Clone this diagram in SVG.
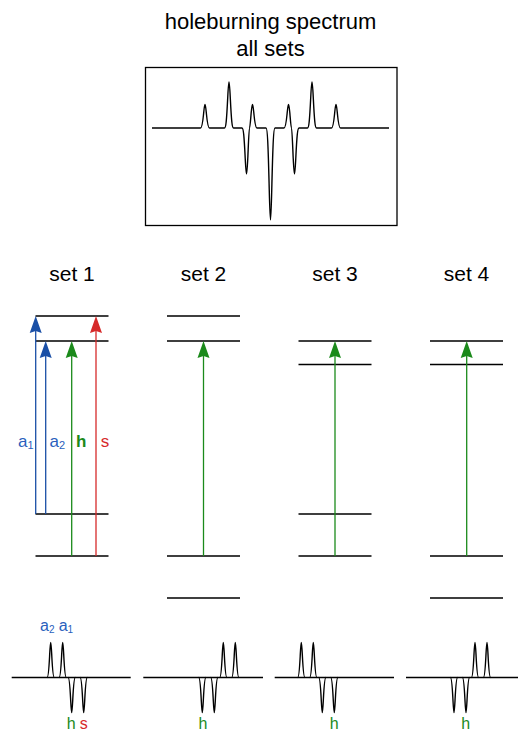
<svg xmlns="http://www.w3.org/2000/svg" xmlns:xlink="http://www.w3.org/1999/xlink" width="518" height="731" viewBox="0 0 518 731">
  <style>
    text { font-family: "Liberation Sans", Arial, Helvetica, sans-serif; fill: #000; }
    .title { font-size: 22px; text-anchor: middle; }
    .setlbl { font-size: 21px; text-anchor: middle; }
    .lvl { stroke: #000; stroke-width: 1.5; fill: none; }
    .spec { stroke: #000; stroke-width: 1.4; fill: none; stroke-linejoin: round; }
    .frame { stroke: #000; stroke-width: 1.3; fill: none; }
    .ab { stroke: #1a4fa6; stroke-width: 1.3; fill: none; }
    .ag { stroke: #1b8a1b; stroke-width: 1.3; fill: none; }
    .ar { stroke: #d62a2a; stroke-width: 1.3; fill: none; }
    .lb { font-size: 17px; }
    .lb2 { font-size: 16px; }
    .blue { fill: #2a5fbd; }
    .green { fill: #1b8a1b; }
    .red { fill: #d62a2a; }
    .bold { font-weight: bold; }
    .mid { text-anchor: middle; }
  </style>
  <defs>
    <!-- arrowheads: tip lies 8px beyond the end of the line -->
    <marker id="hb" markerUnits="userSpaceOnUse" orient="auto" overflow="visible" markerWidth="1" markerHeight="1">
      <path d="M8,0 L-9,-6 L-7,0 L-9,6 Z" fill="#1a4fa6"/>
    </marker>
    <marker id="hg" markerUnits="userSpaceOnUse" orient="auto" overflow="visible" markerWidth="1" markerHeight="1">
      <path d="M8,0 L-9,-6 L-7,0 L-9,6 Z" fill="#1b8a1b"/>
    </marker>
    <marker id="hr" markerUnits="userSpaceOnUse" orient="auto" overflow="visible" markerWidth="1" markerHeight="1">
      <path d="M8,0 L-9,-6 L-7,0 L-9,6 Z" fill="#d62a2a"/>
    </marker>
    <!-- narrow gaussian line of a single-set spectrum, sitting on its baseline -->
    <path id="pk" class="spec" d="M-3.6,0 C-2.42,0 -1.87,-6.37 -1.1,-21.25 C-0.72,-28.67 -0.44,-35 0,-35 C0.44,-35 0.72,-28.67 1.1,-21.25 C1.87,-6.37 2.42,0 3.6,0"/>
  </defs>

  <!-- summed spectrum -->
  <g id="summary">
    <text class="title" x="270.5" y="29">holeburning spectrum</text>
    <text class="title" x="270.5" y="56">all sets</text>
    <rect class="frame" x="145.5" y="67.5" width="251.5" height="158"/>
    <path class="spec" d="M152,128 L200.5,128
      C201.92,128 202.62,123.72 203.6,113.74 C204.09,108.75 204.44,104.5 205,104.5 C205.56,104.5 205.91,108.75 206.4,113.74 C207.38,123.72 208.08,128 209.5,128
      L224.5,128
      C225.92,128 226.62,119.63 227.6,100.08 C228.09,90.33 228.44,82 229,82 C229.56,82 229.91,90.33 230.4,100.08 C231.38,119.63 232.08,128 233.5,128
      L242,128
      C243.42,128 244.12,136.37 245.1,155.92 C245.59,165.67 245.94,174 246.5,174 C247.06,174 247.41,165.67 247.9,155.92 C248.6,139.5 249,128 249.5,128
      C250,128 250.4,122.13 251.1,113.74 C251.59,108.75 251.94,104.5 252.5,104.5 C253.06,104.5 253.41,108.75 253.9,113.74 C254.88,123.72 255.58,128 257,128
      L266,128
      C267.42,128 268.12,144.74 269.1,183.84 C269.59,203.35 269.94,220 270.5,220 C271.06,220 271.41,203.35 271.9,183.84 C272.88,144.74 273.58,128 275,128
      L284,128
      C285.42,128 286.12,123.72 287.1,113.74 C287.59,108.75 287.94,104.5 288.5,104.5 C289.06,104.5 289.41,108.75 289.9,113.74 C290.6,122.13 291,128 291.5,128
      C292,128 292.4,139.5 293.1,155.92 C293.59,165.67 293.94,174 294.5,174 C295.06,174 295.41,165.67 295.9,155.92 C296.88,136.37 297.58,128 299,128
      L307.5,128
      C308.92,128 309.62,119.63 310.6,100.08 C311.09,90.33 311.44,82 312,82 C312.56,82 312.91,90.33 313.4,100.08 C314.38,119.63 315.08,128 316.5,128
      L331.5,128
      C332.92,128 333.62,123.72 334.6,113.74 C335.09,108.75 335.44,104.5 336,104.5 C336.56,104.5 336.91,108.75 337.4,113.74 C338.38,123.72 339.08,128 340.5,128
      L389,128"/>
  </g>

  <!-- set 1 -->
  <g id="set1">
    <text class="setlbl" x="72" y="281">set 1</text>
    <path class="lvl" d="M35.5,316 H108.5 M35.5,341 H108.5 M35.5,514 H108.5 M35.5,556 H108.5"/>
    <text class="lb blue" x="18" y="447">a<tspan font-size="11" dy="2">1</tspan></text>
    <text class="lb blue" x="49.5" y="447">a<tspan font-size="11" dy="2">2</tspan></text>
    <text class="lb green bold mid" x="81.3" y="447">h</text>
    <text class="lb red mid" x="105" y="447">s</text>
  </g>

  <!-- set 2 -->
  <g id="set2">
    <text class="setlbl" x="203.5" y="281">set 2</text>
    <path class="lvl" d="M167,316 H240 M167,341 H240 M167,556 H240 M167,598 H240"/>
  </g>

  <!-- set 3 -->
  <g id="set3">
    <text class="setlbl" x="335" y="281">set 3</text>
    <path class="lvl" d="M298.5,341 H371.5 M298.5,364.5 H371.5 M298.5,514 H371.5 M298.5,556 H371.5"/>
  </g>

  <!-- set 4 -->
  <g id="set4">
    <text class="setlbl" x="466.5" y="281">set 4</text>
    <path class="lvl" d="M430,341 H503 M430,364.5 H503 M430,556 H503 M430,598 H503"/>
  </g>

  <!-- transitions -->
  <g id="connectors">
    <line class="ab" x1="35.7" y1="514" x2="35.7" y2="324" marker-end="url(#hb)"/>
    <line class="ab" x1="45.7" y1="514" x2="45.7" y2="349" marker-end="url(#hb)"/>
    <line class="ag" x1="71.7" y1="556" x2="71.7" y2="349" marker-end="url(#hg)"/>
    <line class="ar" x1="96" y1="556" x2="96" y2="324" marker-end="url(#hr)"/>
    <line class="ag" x1="203.5" y1="556" x2="203.5" y2="349" marker-end="url(#hg)"/>
    <line class="ag" x1="335" y1="556" x2="335" y2="349" marker-end="url(#hg)"/>
    <line class="ag" x1="466.7" y1="556" x2="466.7" y2="349" marker-end="url(#hg)"/>
  </g>

  <!-- per-set spectra -->
  <g id="spec1">
    <path class="spec" d="M11.7,677.5 H130.7"/>
    <use xlink:href="#pk" transform="translate(50.7,677.5)"/>
    <use xlink:href="#pk" transform="translate(62.7,677.5)"/>
    <use xlink:href="#pk" transform="translate(71.7,677.5) scale(1,-1)"/>
    <use xlink:href="#pk" transform="translate(83.7,677.5) scale(1,-1)"/>
    <text class="lb2 blue" x="40" y="631">a<tspan font-size="10" dy="2">2</tspan></text>
    <text class="lb2 blue" x="58.7" y="631">a<tspan font-size="10" dy="2">1</tspan></text>
    <text class="lb2 green mid" x="71.2" y="729">h</text>
    <text class="lb2 red mid" x="83.7" y="729">s</text>
  </g>
  <g id="spec2">
    <path class="spec" d="M143.3,677.5 H263"/>
    <use xlink:href="#pk" transform="translate(202.3,677.5) scale(1,-1)"/>
    <use xlink:href="#pk" transform="translate(214.3,677.5) scale(1,-1)"/>
    <use xlink:href="#pk" transform="translate(223.3,677.5)"/>
    <use xlink:href="#pk" transform="translate(235.3,677.5)"/>
    <text class="lb2 green mid" x="203" y="729">h</text>
  </g>
  <g id="spec3">
    <path class="spec" d="M274.7,677.5 H394"/>
    <use xlink:href="#pk" transform="translate(301.3,677.5)"/>
    <use xlink:href="#pk" transform="translate(313.3,677.5)"/>
    <use xlink:href="#pk" transform="translate(322.3,677.5) scale(1,-1)"/>
    <use xlink:href="#pk" transform="translate(334.3,677.5) scale(1,-1)"/>
    <text class="lb2 green mid" x="334.3" y="729">h</text>
  </g>
  <g id="spec4">
    <path class="spec" d="M406,677.5 H525"/>
    <use xlink:href="#pk" transform="translate(454,677.5) scale(1,-1)"/>
    <use xlink:href="#pk" transform="translate(466,677.5) scale(1,-1)"/>
    <use xlink:href="#pk" transform="translate(475,677.5)"/>
    <use xlink:href="#pk" transform="translate(487,677.5)"/>
    <text class="lb2 green mid" x="465.7" y="729">h</text>
  </g>
</svg>
